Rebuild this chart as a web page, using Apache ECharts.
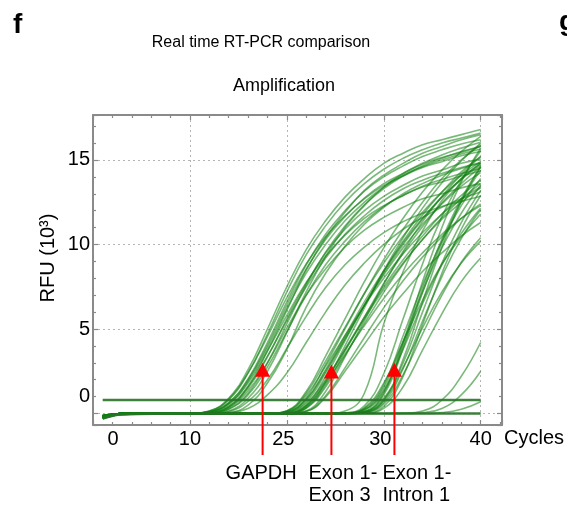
<!DOCTYPE html>
<html><head><meta charset="utf-8">
<script src="https://cdn.jsdelivr.net/npm/echarts@6/dist/echarts.min.js"></script>
<style>html,body{margin:0;padding:0;background:#fff}#c{width:567px;height:506px}</style>
</head><body><div id="c"></div>
<script>
// ---- data (RFU in thousands) ----
const cycles = [1, 3, 10, 12, 14, 16, 18, 20, 22, 24, 26, 28, 30, 32, 34, 36, 38, 40];

const gapdhCurves = [
  [-0.2, 0, 0, 0.15, 0.9, 2.6, 5.0, 7.5, 9.7, 11.4, 12.8, 13.9, 14.8, 15.4, 15.9, 16.2, 16.5, 16.8],
  [-0.25, 0, 0, 0.05, 0.4, 1.6, 3.7, 6.1, 8.5, 10.4, 11.9, 13.2, 14.1, 14.8, 15.4, 15.8, 16.2, 16.5],
  [-0.15, 0, 0, 0.1, 0.65, 2.05, 4.2, 6.6, 8.8, 10.6, 12.0, 13.15, 14.0, 14.65, 15.2, 15.6, 15.95, 16.2],
  [-0.2, 0, 0, 0.02, 0.27, 1.2, 3.0, 5.3, 7.6, 9.55, 11.1, 12.35, 13.3, 14.05, 14.65, 15.1, 15.5, 15.8],
  [-0.1, 0, 0, 0.14, 0.85, 2.4, 4.55, 6.85, 8.85, 10.45, 11.7, 12.7, 13.5, 14.05, 14.55, 14.9, 15.25, 15.5],
  [-0.3, -0.05, 0, 0.05, 0.37, 1.5, 3.35, 5.6, 7.7, 9.5, 10.9, 12.0, 12.85, 13.5, 14.05, 14.4, 14.8, 15.05],
  [-0.2, 0, 0, 0.02, 0.25, 1.1, 2.75, 4.85, 7.0, 8.8, 10.2, 11.35, 12.25, 12.9, 13.45, 13.85, 14.2, 14.5],
  [-0.15, 0, 0, 0.09, 0.57, 1.8, 3.7, 5.8, 7.75, 9.3, 10.55, 11.55, 12.3, 12.9, 13.4, 13.7, 14.05, 14.35],
  [-0.25, 0, 0, 0.04, 0.34, 1.35, 3.0, 5.05, 7.0, 8.55, 9.85, 10.85, 11.6, 12.2, 12.7, 13.0, 13.35, 13.6],
  [-0.2, 0, 0, 0, 0.12, 0.72, 2.0, 3.85, 5.75, 7.45, 8.8, 9.85, 10.7, 11.35, 11.85, 12.25, 12.55, 12.85],
  [-0.1, 0, 0, 0, 0.05, 0.5, 1.8, 3.8, 6.3, 8.3, 9.9, 11.2, 12.2, 13.0, 13.6, 14.1, 14.5, 14.8],
  [-0.2, 0, 0, 0, 0.05, 0.3, 1.1, 2.4, 4.2, 6.0, 7.6, 8.9, 10.0, 10.9, 11.6, 12.2, 12.7, 13.1],
  [-0.3, -0.05, 0, 0, 0.15, 0.9, 2.5, 4.8, 7.2, 9.3, 11.0, 12.3, 13.4, 14.2, 14.8, 15.3, 15.7, 16.05],
  [-0.2, 0, 0, 0.1, 0.63, 2.0, 4.05, 6.4, 8.55, 10.3, 11.65, 12.75, 13.6, 14.2, 14.75, 15.15, 15.45, 15.8],
  [-0.2, 0, 0, 0.08, 0.55, 1.9, 3.9, 6.2, 8.3, 10.0, 11.4, 12.5, 13.4, 14.1, 14.6, 15.0, 15.35, 15.65],
  [-0.15, 0, 0, 0.06, 0.45, 1.6, 3.4, 5.5, 7.5, 9.2, 10.6, 11.7, 12.6, 13.3, 13.8, 14.2, 14.55, 14.85],
  [-0.25, 0, 0, 0.12, 0.8, 2.4, 4.7, 7.2, 9.4, 11.1, 12.5, 13.6, 14.45, 15.1, 15.6, 16.0, 16.3, 16.6]
];

const exon13Curves = [
  [-0.2, 0, 0, 0, 0, 0, 0, 0.17, 1.3, 3.4, 5.6, 7.8, 9.8, 11.55, 13.1, 14.4, 15.5, 16.4],
  [-0.1, 0, 0, 0, 0, 0, 0, 0.03, 0.5, 2.2, 4.3, 6.4, 8.4, 10.2, 11.75, 13.1, 14.3, 15.2],
  [-0.25, 0, 0, 0, 0, 0, 0, 0.09, 0.85, 2.6, 4.6, 6.6, 8.45, 10.1, 11.55, 12.8, 13.85, 14.7],
  [-0.2, 0, 0, 0, 0, 0, 0, 0.01, 0.31, 1.57, 3.42, 5.32, 7.17, 8.85, 10.3, 11.6, 12.7, 13.6],
  [-0.15, 0, 0, 0, 0, 0, 0, 0.14, 1.08, 2.8, 4.6, 6.4, 8.0, 9.45, 10.7, 11.8, 12.7, 13.4],
  [-0.3, -0.05, 0, 0, 0, 0, 0, 0, 0.16, 1.3, 3.35, 5.5, 7.65, 9.6, 11.35, 12.85, 14.15, 15.2],
  [-0.2, 0, 0, 0, 0, 0, 0, 0.03, 0.43, 1.8, 3.5, 5.2, 6.8, 8.25, 9.5, 10.6, 11.55, 12.3],
  [-0.2, 0, 0, 0, 0, 0, 0, 0, 0.12, 0.96, 2.5, 4.1, 5.7, 7.1, 8.4, 9.5, 10.5, 11.3],
  [-0.1, 0, 0, 0, 0, 0, 0, 0.15, 1.2, 3.1, 5.1, 7.1, 8.9, 10.5, 11.9, 13.1, 14.1, 14.9],
  [-0.25, 0, 0, 0, 0, 0, 0, 0.02, 0.34, 1.68, 3.67, 5.7, 7.7, 9.5, 11.05, 12.45, 13.6, 14.6],
  [-0.2, 0, 0, 0, 0, 0, 0, 0.03, 0.46, 1.93, 3.77, 5.6, 7.35, 8.9, 10.3, 11.5, 12.5, 13.35],
  [-0.15, 0, 0, 0, 0, 0, 0, 0.02, 0.37, 1.85, 4.0, 6.25, 8.45, 10.4, 12.15, 13.65, 14.95, 16.0],
  [-0.3, 0, 0, 0, 0, 0, 0, 0, 0.13, 1.05, 2.7, 4.5, 6.25, 7.85, 9.25, 10.45, 11.55, 12.4],
  [-0.2, 0, 0, 0, 0, 0, 0, 0.09, 0.82, 2.5, 4.45, 6.4, 8.2, 9.8, 11.2, 12.4, 13.45, 14.25],
  [-0.2, 0, 0, 0, 0, 0, 0, 0.06, 0.7, 2.4, 4.4, 6.4, 8.3, 10.0, 11.5, 12.8, 13.9, 14.8],
  [-0.15, 0, 0, 0, 0, 0, 0, 0.05, 0.6, 2.0, 3.8, 5.7, 7.5, 9.1, 10.5, 11.8, 12.9, 13.8],
  [-0.2, 0, 0, 0, 0, 0, 0, 0.1, 0.95, 2.9, 5.0, 7.1, 9.1, 10.9, 12.5, 13.9, 15.0, 15.9]
];

const intron1Curves = [
  [-0.2, 0, 0, 0, 0, 0, 0, 0, 0, 0, 0.03, 0.45, 2.35, 5.6, 8.85, 11.65, 13.8, 15.55],
  [-0.25, 0, 0, 0, 0, 0, 0, 0, 0, 0, 0, 0.11, 1.1, 3.85, 7.15, 10.1, 12.55, 14.4],
  [-0.15, 0, 0, 0, 0, 0, 0, 0, 0, 0, 0.015, 0.25, 1.55, 4.25, 7.2, 9.8, 11.85, 13.5],
  [-0.2, 0, 0, 0, 0, 0, 0, 0, 0, 0, 0, 0.06, 0.67, 2.66, 5.46, 8.1, 10.35, 12.05],
  [-0.1, 0, 0, 0, 0, 0, 0, 0, 0, 0, 0.03, 0.34, 1.8, 4.25, 6.7, 8.85, 10.45, 11.8],
  [-0.3, -0.05, 0, 0, 0, 0, 0, 0, 0, 0, 0, 0.03, 0.42, 2.2, 5.25, 8.3, 10.9, 12.9],
  [-0.2, 0, 0, 0, 0, 0, 0, 0, 0, 0, 0, 0.08, 0.78, 2.73, 5.07, 7.2, 8.9, 10.2],
  [-0.2, 0, 0, 0, 0, 0, 0, 0, 0, 0, 0, 0.02, 0.3, 1.58, 3.75, 5.9, 7.8, 9.2],
  [-0.15, 0, 0, 0, 0, 0, 0, 0, 0, 0, 0, 0.075, 0.8, 3.2, 6.6, 9.85, 12.55, 14.6],
  [-0.25, 0, 0, 0, 0, 0, 0, 0, 0, 0, 0.01, 0.22, 1.4, 3.8, 6.5, 8.8, 10.65, 12.15],
  [-0.2, 0, 0, 0, 0, 0, 0, 0, 0, 0, 0, 0.12, 1.2, 4.2, 7.8, 11.0, 13.7, 15.7],
  [-0.2, 0, 0, 0, 0, 0, 0, 0, 0, 0, 0, 0.05, 0.57, 2.3, 4.7, 7.0, 8.95, 10.4],
  [-0.2, 0, 0, 0, 0, 0, 0, 0, 0, 0, 0.02, 0.2, 1.3, 4.0, 7.4, 10.3, 12.7, 14.6],
  [-0.15, 0, 0, 0, 0, 0, 0, 0, 0, 0, 0, 0.1, 0.9, 3.0, 6.0, 8.9, 11.3, 13.2],
  [-0.25, 0, 0, 0, 0, 0, 0, 0, 0, 0, 0.02, 0.3, 1.7, 4.6, 7.6, 10.2, 12.3, 13.9]
];

const lateCurves = [
  [-0.2, 0, 0, 0, 0, 0, 0, 0, 0, 0, 0, 0, 0, 0.02, 0.15, 0.8, 2.2, 4.2],
  [-0.15, 0, 0, 0, 0, 0, 0, 0, 0, 0, 0, 0, 0, 0, 0.05, 0.3, 1.1, 2.5],
  [-0.2, 0, 0, 0, 0, 0, 0, 0, 0, 0, 0, 0, 0, 0, 0, 0.05, 0.25, 0.7],
  [-0.2, 0, 0, 0, 0, 0, 0, 0, 0, 0, 0.15, 1.2, 5.3, 8.4, 10.8, 12.6, 13.9, 14.8]
];

const flatCurves = [
  [0.8, 0.8, 0.8, 0.8, 0.8, 0.8, 0.8, 0.8, 0.8, 0.8, 0.8, 0.8, 0.8, 0.8, 0.8, 0.8, 0.8, 0.8],
  [-0.3, -0.05, 0, 0, 0, 0, 0, 0, 0, 0, 0, 0, 0, 0, 0, 0, 0, 0]
];

const xTickValues = [0, 10, 20, 30, 40];
const xTickLabels = ['0', '10', '25', '30', '40'];
const yTickValues = [0, 5, 10, 15];
const yTickLabels = ['0', '5', '10', '15'];

const arrowNames = ['GAPDH', 'Exon 1-\nExon 3', 'Exon 1-\nIntron 1'];
const arrowCycles = [17.5, 24.6, 31.1];
const arrowRFU = [3.0, 2.9, 3.0];

// ---- chart ----
const FONT = '"Liberation Sans", Arial, Helvetica, sans-serif';
const GREEN = 'rgba(15,128,15,0.55)';
const AXIS = '#8a8a8a';
const chart = echarts.init(document.getElementById('c'), null, {renderer: 'canvas'});

function mk(arr, style) {
  return {
    type: 'line', data: arr.map((v, i) => [cycles[i], v]),
    showSymbol: false, smooth: 0.45, silent: true,
    lineStyle: style, animation: false, z: 3
  };
}
const series = [];
[gapdhCurves, exon13Curves, intron1Curves, lateCurves].forEach(g =>
  g.forEach(a => series.push(mk(a, {color: GREEN, width: 1.6}))));
flatCurves.forEach(a => series.push(mk(a, {color: 'rgba(40,115,40,0.9)', width: 2.6})));

const baseAxisX = {
  type: 'value', min: 0, max: 42.2, splitNumber: 4,
  axisLine: {show: true, onZero: false, lineStyle: {color: AXIS, width: 2}},
  axisTick: {show: true, inside: true, length: 5, lineStyle: {color: AXIS, width: 1.2}},
  minorTick: {show: true, splitNumber: 5, length: 3, lineStyle: {color: AXIS, width: 1.2}}
};
const baseAxisY = {
  type: 'value', min: -0.68, max: 17.66, splitNumber: 4,
  axisLine: {show: true, onZero: false, lineStyle: {color: AXIS, width: 2}},
  axisTick: {show: true, inside: true, length: 5, lineStyle: {color: AXIS, width: 1.2}},
  minorTick: {show: true, splitNumber: 5, length: 3, lineStyle: {color: AXIS, width: 1.2}}
};
const grid = {left: 93, right: 62, top: 115, bottom: 81};

chart.setOption({
  animation: false,
  backgroundColor: '#fff',
  grid: grid,
  xAxis: [
    Object.assign({}, baseAxisX, {
      position: 'bottom',
      name: 'Cycles', nameLocation: 'end', nameGap: 2,
      nameTextStyle: {color: '#000', fontSize: 20, fontFamily: FONT, verticalAlign: 'top', padding: [3, 0, 0, 0]},
      splitLine: {show: true, lineStyle: {color: '#b5b5b5', type: [2, 3], width: 1}},
      axisLabel: {
        show: true, margin: 4, color: '#000', fontSize: 20, fontFamily: FONT,
        showMaxLabel: false,
        formatter: v => {
          const i = xTickValues.indexOf(v);
          if (i < 0) return '';
          if (i === 0) return '{s|' + xTickLabels[i] + '}';
          if (i === 2) return '{m|' + xTickLabels[i] + '}';
          if (i === 3) return '{m|' + xTickLabels[i] + '}';
          return xTickLabels[i];
        },
        rich: {
          s: {fontSize: 20, fontFamily: FONT, color: '#000', padding: [0, 0, 0, 40]},
          m: {fontSize: 20, fontFamily: FONT, color: '#000', padding: [0, 7, 0, 0]}
        }
      }
    }),
    Object.assign({}, baseAxisX, {
      position: 'top', axisLabel: {show: false}, splitLine: {show: false}
    })
  ],
  yAxis: [
    Object.assign({}, baseAxisY, {
      position: 'left',
      splitLine: {show: true, lineStyle: {color: '#b5b5b5', type: [2, 3], width: 1}},
      axisLabel: {
        show: true, margin: 3, color: '#000', fontSize: 20, fontFamily: FONT,
        showMinLabel: false, showMaxLabel: false,
        formatter: v => {
          const i = yTickValues.indexOf(v);
          if (i < 0) return '';
          if (i === 0) return '{z|' + yTickLabels[i] + '}';
          return yTickLabels[i];
        },
        rich: {z: {fontSize: 20, fontFamily: FONT, color: '#000', padding: [0, 0, 35, 0]}}
      }
    }),
    Object.assign({}, baseAxisY, {
      position: 'right', axisLabel: {show: false}, splitLine: {show: false}
    })
  ],
  series: series
});

// annotations (titles, axis title, arrows)
const graphics = [
  {type: 'text', x: 13, y: 25, style: {text: 'f', font: 'bold 28px ' + FONT, fill: '#000', verticalAlign: 'middle'}},
  {type: 'text', x: 559, y: 22, style: {text: 'g', font: 'bold 28px ' + FONT, fill: '#000', verticalAlign: 'middle'}},
  {type: 'text', x: 261, y: 43, style: {text: 'Real time RT-PCR comparison', font: '16px ' + FONT, fill: '#000', align: 'center', verticalAlign: 'middle'}},
  {type: 'text', x: 284, y: 86, style: {text: 'Amplification', font: '18px ' + FONT, fill: '#000', align: 'center', verticalAlign: 'middle'}},
  {type: 'text', x: 48, y: 258, rotation: Math.PI / 2, style: {text: 'RFU (10³)', font: '20px ' + FONT, fill: '#000', align: 'center', verticalAlign: 'middle'}}
];
const labelOffsets = [-37, -23, -12];
arrowNames.forEach((name, i) => {
  const p = chart.convertToPixel({gridIndex: 0}, [arrowCycles[i], arrowRFU[i]]);
  const x = p[0], y = p[1];
  graphics.push({type: 'polygon', z: 10, shape: {points: [[x, y], [x - 7.5, y + 14], [x + 7.5, y + 14]]}, style: {fill: '#ff0000'}});
  graphics.push({type: 'line', z: 10, shape: {x1: x, y1: y + 13, x2: x, y2: 455}, style: {stroke: '#ff0000', lineWidth: 2}});
  graphics.push({type: 'text', z: 10, x: x + labelOffsets[i], y: 462, style: {text: name, font: '20px ' + FONT, fill: '#000', align: 'left', verticalAlign: 'top', lineHeight: 22}});
});
chart.setOption({graphic: graphics});
</script></body></html>
